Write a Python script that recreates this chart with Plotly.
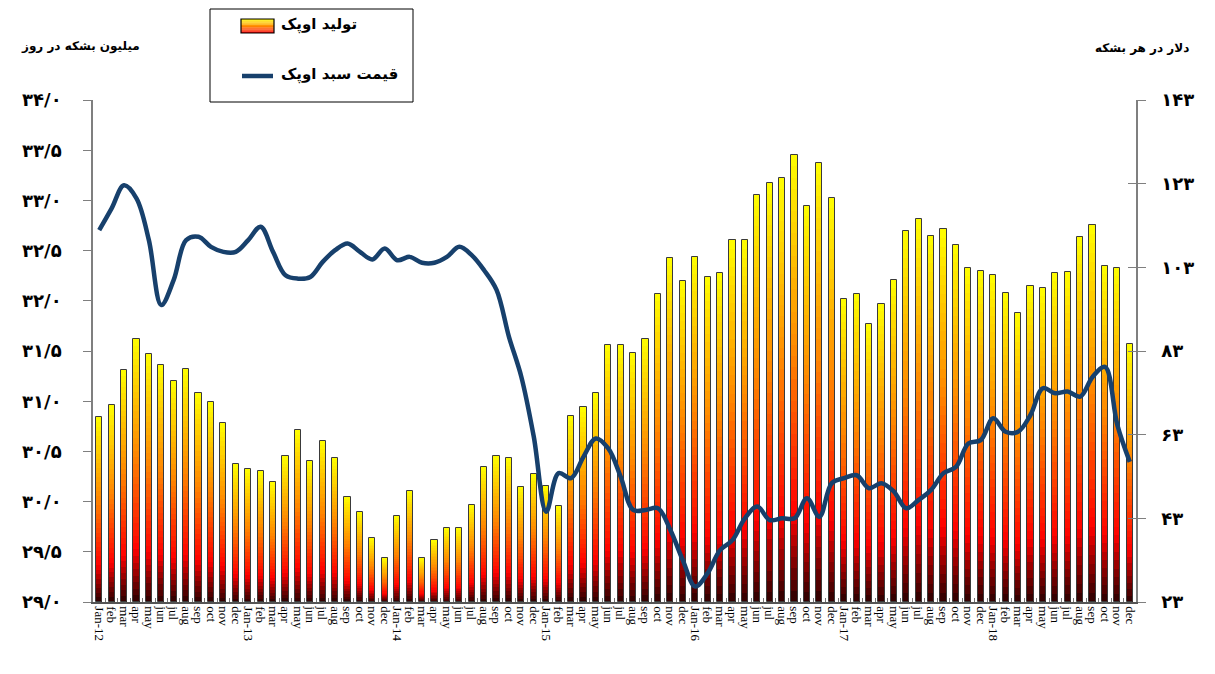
import plotly.graph_objects as go
from plotly.colors import sample_colorscale

# ---------------- data ----------------
years = ["12", "13", "14", "15", "16", "17", "18"]
month_names = ["feb", "mar", "apr", "may", "jun", "jul", "aug", "sep", "oct", "nov", "dec"]
tick_labels = []
for yy in years:
    tick_labels.append("Jan-" + yy)
    tick_labels.extend(month_names)

# OPEC production, million barrels per day
production = [30.84, 30.96, 31.31, 31.62, 31.47, 31.36, 31.20, 31.32, 31.08, 30.99, 30.78, 30.37,
              30.32, 30.30, 30.20, 30.45, 30.71, 30.40, 30.60, 30.43, 30.05, 29.90, 29.64, 29.44,
              29.86, 30.11, 29.44, 29.62, 29.74, 29.74, 29.97, 30.34, 30.45, 30.43, 30.15, 30.27,
              30.16, 29.96, 30.85, 30.94, 31.08, 31.56, 31.56, 31.48, 31.62, 32.07, 32.43, 32.20,
              32.44, 32.24, 32.28, 32.61, 32.61, 33.05, 33.17, 33.22, 33.45, 32.94, 33.37, 33.02,
              32.02, 32.07, 31.77, 31.97, 32.21, 32.70, 32.81, 32.65, 32.72, 32.56, 32.33, 32.30,
              32.26, 32.08, 31.88, 32.15, 32.13, 32.28, 32.29, 32.64, 32.76, 32.35, 32.33, 31.57]

# OPEC basket price, dollars per barrel
price = [111.9, 117.1, 122.6, 119.5, 109.5, 94.0, 100.0, 109.5, 110.3, 107.9, 106.7, 106.7,
         109.5, 112.7, 106.7, 101.1, 100.3, 100.7, 104.3, 107.1, 108.7, 106.7, 104.9, 107.5,
         104.7, 105.5, 104.1, 104.1, 105.5, 107.9, 105.9, 102.3, 97.6, 86.4, 76.8, 62.5,
         44.6, 53.8, 52.6, 57.7, 62.1, 59.7, 52.9, 45.0, 45.0, 45.4, 40.2, 33.0,
         26.7, 29.9, 35.4, 37.8, 43.0, 45.8, 42.6, 43.0, 43.0, 47.8, 43.4, 51.4,
         52.6, 53.3, 50.2, 51.4, 49.4, 45.4, 47.4, 49.8, 53.8, 55.3, 60.9, 61.7,
         66.9, 63.7, 63.7, 67.7, 74.1, 72.9, 73.3, 72.1, 76.8, 79.2, 65.3, 56.5]

left_ticks = [29.0, 29.5, 30.0, 30.5, 31.0, 31.5, 32.0, 32.5, 33.0, 33.5, 34.0]
left_tick_text = ["۲۹/۰", "۲۹/۵", "۳۰/۰", "۳۰/۵", "۳۱/۰", "۳۱/۵", "۳۲/۰", "۳۲/۵", "۳۳/۰", "۳۳/۵", "۳۴/۰"]
right_ticks = [23, 43, 63, 83, 103, 123, 143]
right_tick_text = ["۲۳", "۴۳", "۶۳", "۸۳", "۱۰۳", "۱۲۳", "۱۴۳"]

legend_bar = "تولید اوپک"
legend_line = "قیمت سبد اوپک"
left_title = "میلیون بشکه در روز"
right_title = "دلار در هر بشکه"

# ---------------- figure ----------------
OFF = 8  # page body margin offset
W, H = 1215, 674
PW, PH = 1043, 502
ML, MT = 93 - OFF, 100 - OFF
MR = W - ML - PW
MB = H - MT - PH
base_val = 29.0
x = list(range(len(production)))
scale = [[0.0, "#2a0000"], [0.1, "#8e0000"], [0.2, "#ff0000"], [0.55, "#ff8400"], [1.0, "#ffff00"]]
NSEG = 40
bar_w = 0.5

fig = go.Figure()
heights = [v - base_val for v in production]
for k in range(NSEG):
    col = sample_colorscale(scale, [(k + 0.5) / NSEG])[0]
    fig.add_trace(go.Bar(
        x=x, y=[h / NSEG * 1.02 for h in heights],
        base=[base_val + h * k / NSEG for h in heights],
        width=bar_w, marker=dict(color=col, line=dict(width=0)),
        showlegend=False, hoverinfo="skip", yaxis="y"))
fig.add_trace(go.Bar(
    x=x, y=heights, base=[base_val] * len(heights), width=bar_w,
    marker=dict(color="rgba(0,0,0,0)", line=dict(color="#3a3a3a", width=1)),
    showlegend=False, name=legend_bar, yaxis="y"))
fig.add_trace(go.Scatter(
    x=x, y=price, mode="lines", yaxis="y2", name=legend_line,
    line=dict(color="#17406c", width=4.5, shape="spline", smoothing=1.0),
    showlegend=False))

axis_color = "#7f7f7f"
digit_font = dict(family="DejaVu Sans", size=18, color="black", weight="bold")

fig.update_layout(
    width=W, height=H, margin=dict(l=ML, r=MR, t=MT, b=MB),
    paper_bgcolor="white", plot_bgcolor="white",
    barmode="overlay", bargap=0,
    xaxis=dict(range=[-0.5, len(x) - 0.5], tickmode="array", tickvals=x, ticktext=tick_labels,
               tickangle=90, tickfont=dict(family="Liberation Serif", size=13, color="black"),
               showgrid=False, zeroline=False, showline=True, linecolor="#555555", linewidth=1.5,
               ticks="", ticklen=0,
               minor=dict(tickmode="array", tickvals=[i + 0.5 for i in x[:-1]], ticks="inside",
                          ticklen=4, tickcolor="#777777", tickwidth=1)),
    yaxis=dict(range=[29, 34], tickmode="array", tickvals=left_ticks, ticktext=left_tick_text,
               tickfont=digit_font, showgrid=False, zeroline=False, showline=True,
               linecolor=axis_color, linewidth=1.5, ticks="outside", ticklen=8,
               tickcolor=axis_color, ticklabelstandoff=18),
    yaxis2=dict(range=[23, 143], overlaying="y", side="right", tickmode="array",
                tickvals=right_ticks, ticktext=right_tick_text, tickfont=digit_font,
                showgrid=False, zeroline=False, showline=True, linecolor=axis_color,
                linewidth=1.5, ticks="outside", ticklen=8, tickcolor=axis_color,
                ticklabelstandoff=12),
    yaxis3=dict(range=[23, 143], overlaying="y", side="right", tickmode="array",
                tickvals=right_ticks, showticklabels=False, showgrid=False, zeroline=False,
                showline=False, ticks="inside", ticklen=8, tickcolor=axis_color),
)
# invisible helper trace to activate yaxis3 ticks
fig.add_trace(go.Scatter(x=[x[0]], y=[right_ticks[0]], yaxis="y3", mode="markers",
                         marker=dict(opacity=0), showlegend=False, hoverinfo="skip"))


def px(xp, yp):
    return (xp - OFF - ML) / PW, (H - MB - (yp - OFF)) / PH


shapes = []
# legend box
x0, y0 = px(210, 9)
x1, y1 = px(413, 102)
shapes.append(dict(type="rect", xref="paper", yref="paper", x0=x0, y0=y1, x1=x1, y1=y0,
                   line=dict(color="black", width=1), fillcolor="white", layer="above"))
# gradient swatch
sx0, sx1, sy_top, sy_bot = 241, 274, 19, 33
nstr = 12
for k in range(nstr):
    col = sample_colorscale(scale, [0.15 + 0.85 * (k + 0.5) / nstr])[0]
    ya = sy_bot - (sy_bot - sy_top) * k / nstr
    yb = sy_bot - (sy_bot - sy_top) * (k + 1) / nstr
    a0, b0 = px(sx0, ya)
    a1, b1 = px(sx1, yb)
    shapes.append(dict(type="rect", xref="paper", yref="paper", x0=a0, y0=b0, x1=a1, y1=b1,
                       line=dict(width=0), fillcolor=col, layer="above"))
a0, b0 = px(sx0, sy_bot)
a1, b1 = px(sx1, sy_top)
shapes.append(dict(type="rect", xref="paper", yref="paper", x0=a0, y0=b0, x1=a1, y1=b1,
                   line=dict(color="black", width=1.2), fillcolor="rgba(0,0,0,0)", layer="above"))
# line swatch
a0, b0 = px(242, 76)
a1, _ = px(273, 76)
shapes.append(dict(type="line", xref="paper", yref="paper", x0=a0, y0=b0, x1=a1, y1=b0,
                   line=dict(color="#17406c", width=4.5), layer="above"))
fig.update_layout(shapes=shapes)

annots = []
label_font = dict(family="DejaVu Sans", size=15, color="black", weight="bold")
ax, ay = px(279, 25)
annots.append(dict(x=ax, y=ay, xref="paper", yref="paper", text=legend_bar, showarrow=False,
                   xanchor="left", yanchor="middle", font=label_font))
ax, ay = px(279, 74)
annots.append(dict(x=ax, y=ay, xref="paper", yref="paper", text=legend_line, showarrow=False,
                   xanchor="left", yanchor="middle", font=label_font))
title_font = dict(family="DejaVu Sans", size=12, color="black", weight="bold")
ax, ay = px(80, 46)
annots.append(dict(x=ax, y=ay, xref="paper", yref="paper", text=left_title, showarrow=False,
                   xanchor="center", yanchor="middle", font=title_font))
ax, ay = px(1142, 48)
annots.append(dict(x=ax, y=ay, xref="paper", yref="paper", text=right_title, showarrow=False,
                   xanchor="center", yanchor="middle", font=title_font))
fig.update_layout(annotations=annots)

fig.write_html("out.html")
